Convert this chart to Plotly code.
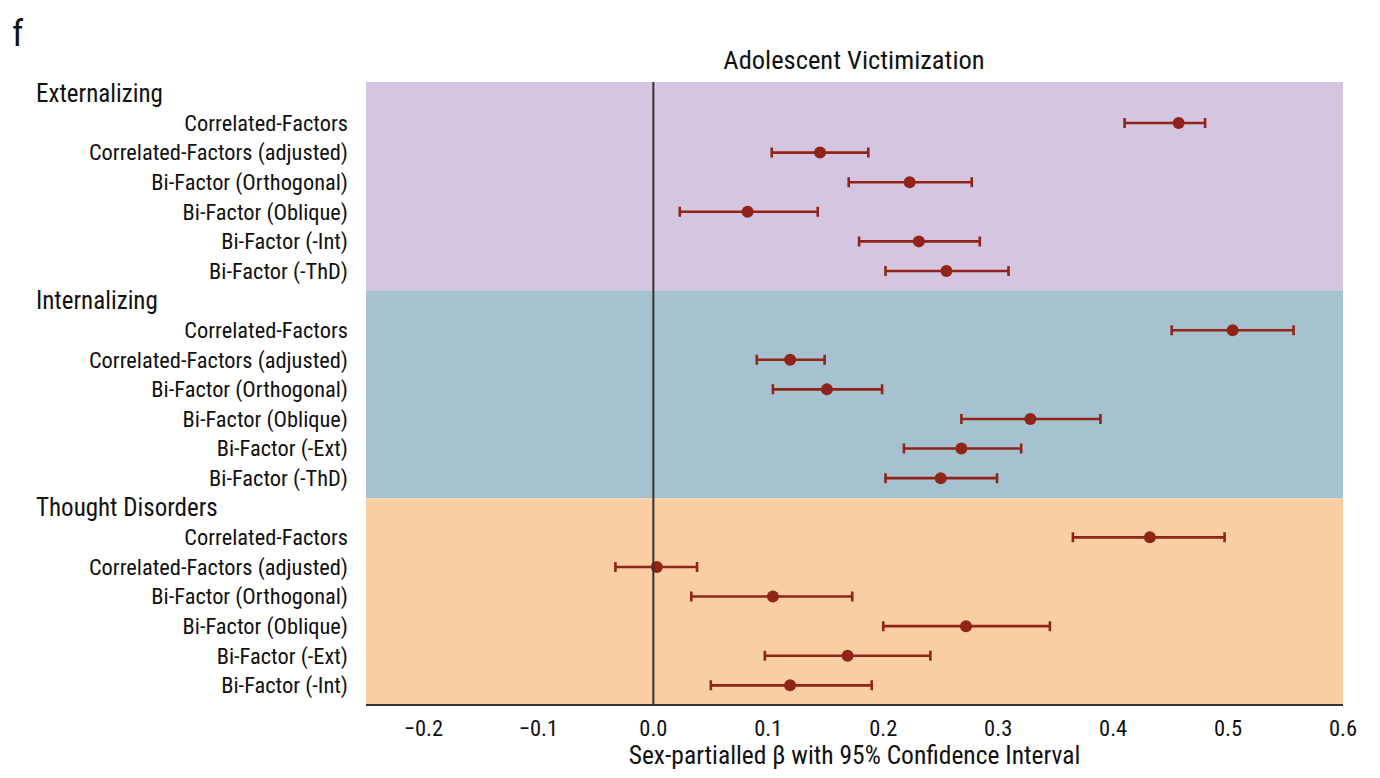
import plotly.graph_objects as go

groups = ["Externalizing", "Internalizing", "Thought Disorders"]
labels_ext = ["Correlated-Factors", "Correlated-Factors (adjusted)", "Bi-Factor (Orthogonal)",
              "Bi-Factor (Oblique)", "Bi-Factor (-Int)", "Bi-Factor (-ThD)"]
labels_int = ["Correlated-Factors", "Correlated-Factors (adjusted)", "Bi-Factor (Orthogonal)",
              "Bi-Factor (Oblique)", "Bi-Factor (-Ext)", "Bi-Factor (-ThD)"]
labels_thd = ["Correlated-Factors", "Correlated-Factors (adjusted)", "Bi-Factor (Orthogonal)",
              "Bi-Factor (Oblique)", "Bi-Factor (-Ext)", "Bi-Factor (-Int)"]

est_ext = [0.457, 0.145, 0.223, 0.082, 0.231, 0.255]
lo_ext = [0.410, 0.103, 0.170, 0.023, 0.179, 0.202]
hi_ext = [0.480, 0.187, 0.277, 0.143, 0.284, 0.309]

est_int = [0.504, 0.119, 0.151, 0.328, 0.268, 0.250]
lo_int = [0.451, 0.090, 0.104, 0.268, 0.218, 0.202]
hi_int = [0.557, 0.149, 0.199, 0.389, 0.320, 0.299]

est_thd = [0.432, 0.003, 0.104, 0.272, 0.169, 0.119]
lo_thd = [0.365, -0.033, 0.033, 0.200, 0.097, 0.050]
hi_thd = [0.497, 0.038, 0.173, 0.345, 0.241, 0.190]

band_colors = ["#D4C6E0", "#A6C2D0", "#F8CEA2"]
point_color = "#902418"
font_family = "Liberation Sans Narrow, Arial Narrow, Roboto Condensed, Roboto, sans-serif"

all_labels = [labels_ext, labels_int, labels_thd]
all_est = [est_ext, est_int, est_thd]
all_lo = [lo_ext, lo_int, lo_thd]
all_hi = [hi_ext, hi_int, hi_thd]

# page body has 8px default margin -> figure coordinates offset by 8px
W, H = 1364, 762
PL, PR, PT, PB = 366 - 8, 1343 - 8, 82 - 8, 704 - 8
pw, ph = PR - PL, PB - PT

fig = go.Figure()

band_edges = [-0.385, 6.65, 13.68, 20.63]
for i, c in enumerate(band_colors):
    fig.add_shape(type="rect", xref="paper", yref="y", x0=0, x1=1,
                  y0=band_edges[i], y1=band_edges[i + 1], fillcolor=c,
                  line_width=0, layer="below")

ys, xs, ep, em, tickvals, ticktext = [], [], [], [], [], []
header_pos = []
pos = 0
for g in range(3):
    header_pos.append(pos)
    pos += 1
    for lab, e, lo, hi in zip(all_labels[g], all_est[g], all_lo[g], all_hi[g]):
        ys.append(pos)
        xs.append(e)
        ep.append(hi - e)
        em.append(e - lo)
        tickvals.append(pos)
        ticktext.append(lab)
        pos += 1

fig.add_shape(type="line", xref="x", yref="paper", x0=0, x1=0, y0=0, y1=1,
              line=dict(color="#333333", width=2), layer="above")

fig.add_trace(go.Scatter(
    x=xs, y=ys, mode="markers",
    marker=dict(color=point_color, size=12),
    error_x=dict(type="data", symmetric=False, array=ep, arrayminus=em,
                 color=point_color, thickness=2.6, width=5),
    showlegend=False, hoverinfo="x+y",
))

for g, p in zip(groups, header_pos):
    fig.add_annotation(text=g, xref="paper", yref="y", x=(34 - 366) / pw, y=p,
                       xanchor="left", yanchor="middle", showarrow=False,
                       font=dict(size=25, color="#111111", family=font_family))

fig.add_annotation(text="f", xref="paper", yref="paper", x=(10 - 366) / pw,
                   y=1 + (82 - 34) / ph,
                   xanchor="left", yanchor="middle", showarrow=False,
                   font=dict(size=36, color="#111111", family=font_family))

fig.update_layout(
    width=W, height=H,
    margin=dict(l=PL, r=W - PR, t=PT, b=H - PB),
    plot_bgcolor="white", paper_bgcolor="white",
    font=dict(family=font_family, color="#111111", size=22),
    title=dict(text="Adolescent Victimization", x=(854 - 8) / W, xanchor="center",
               y=1 - (60 - 8) / H, yanchor="middle",
               font=dict(size=26.5, family=font_family, color="#111111")),
    xaxis=dict(range=[-0.25, 0.6], tickvals=[-0.2, -0.1, 0.0, 0.1, 0.2, 0.3, 0.4, 0.5, 0.6],
               ticktext=["\u22120.2", "\u22120.1", "0.0", "0.1", "0.2", "0.3", "0.4", "0.5", "0.6"],
               showgrid=False, zeroline=False, showline=True, linecolor="#333333", linewidth=2,
               ticks="", tickfont=dict(size=22.5), ticklabelstandoff=3, automargin=False,
               title=dict(text="Sex-partialled \u03b2 with 95% Confidence Interval",
                          font=dict(size=25.5), standoff=14)),
    yaxis=dict(range=[20.63, -0.385], tickvals=tickvals, ticktext=ticktext,
               showgrid=False, zeroline=False, showline=False, ticks="", automargin=False,
               ticklabelstandoff=17, tickfont=dict(size=22.4)),
)

fig.write_html("out.html")
